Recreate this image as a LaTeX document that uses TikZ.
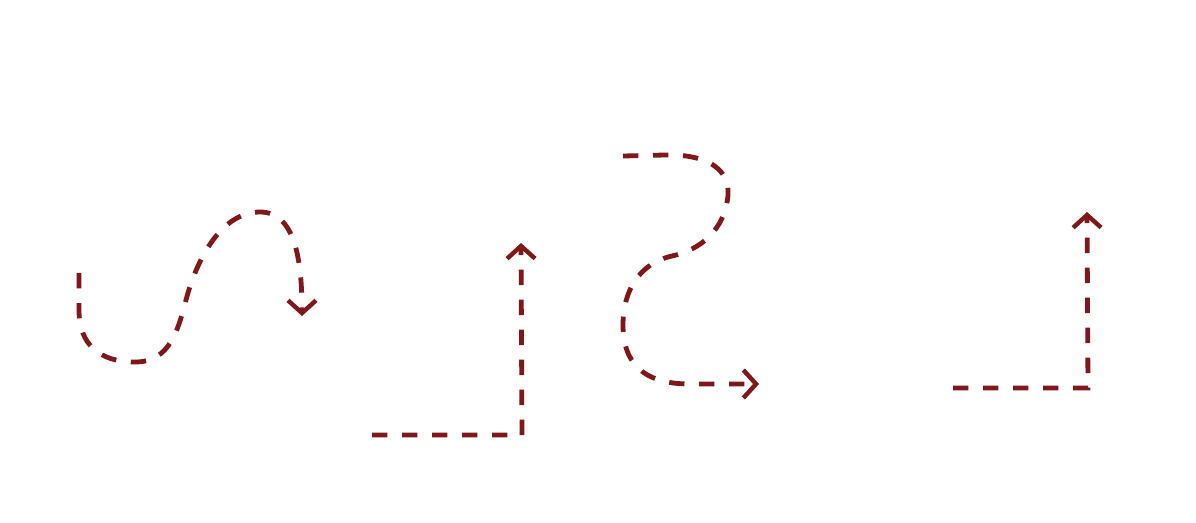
\documentclass[tikz,border=0pt]{standalone}
\usetikzlibrary{arrows.meta}
\definecolor{arrowred}{RGB}{128,24,26}
\begin{document}
\begin{tikzpicture}[x=0.75pt,y=-0.75pt,
  flow/.style={draw=arrowred, line width=3.6pt, dash pattern=on 11.5pt off 11pt,
    -{Straight Barb[length=9.5pt,width=21pt,line width=3.3pt]}}]
\useasboundingbox (0,0) rectangle (1196,522);
% arrow 1: S-curve ending downward
\coordinate (a1s) at (79,273);
\coordinate (a1e) at (302,316);
\draw[flow] (a1s) -- (79,310) .. controls (79,345) and (100,362) .. (135,362)
  .. controls (170,362) and (178,330) .. (186,300)
  .. controls (196,262) and (220,212) .. (260,212)
  .. controls (295,212) and (302,260) .. (a1e);
% arrow 2: L-shape up
\coordinate (a2s) at (372,435);
\coordinate (a2c) at (522,435);
\coordinate (a2e) at (521,243);
\draw[flow] (a2s) -- (a2c) -- (a2e);
% arrow 3: S-curve ending right
\coordinate (a3s) at (623,156);
\coordinate (a3e) at (759,384);
\draw[flow] (a3s) -- (665,155) .. controls (700,154) and (730,165) .. (728,195)
  .. controls (725,230) and (700,250) .. (672,256)
  .. controls (640,263) and (623,290) .. (623,325)
  .. controls (623,360) and (640,384) .. (690,384) -- (a3e);
% arrow 4: L-shape up
\coordinate (a4s) at (953,388);
\coordinate (a4c) at (1088,388);
\coordinate (a4e) at (1087,212);
\draw[flow] (a4s) -- (a4c) -- (a4e);
\end{tikzpicture}
\end{document}
